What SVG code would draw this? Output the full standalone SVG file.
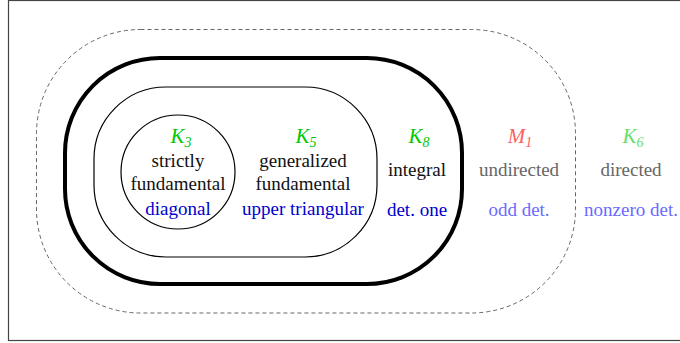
<svg xmlns="http://www.w3.org/2000/svg" width="680" height="343" viewBox="0 0 680 343">
<defs>
<style>
.shape{fill:none}
</style>
</defs>
<rect x="8.5" y="0.5" width="680" height="340" fill="#fff" stroke="#444" stroke-width="1.2"/>
<g id="nonzero-det" font-family="Liberation Serif" font-size="19" text-anchor="middle">
<rect class="shape" x="36.5" y="29.5" width="539" height="283.5" rx="104" ry="104" stroke="#666" stroke-width="1" stroke-dasharray="4,3"/>
<text font-family="Liberation Serif" font-style="italic" font-size="21" fill="#66e066" x="633" y="143">K<tspan font-size="14" dy="4">6</tspan></text>
<text font-family="Liberation Serif" fill="#666" x="631" y="176">directed</text>
<text font-family="Liberation Serif" fill="#6a6aff" x="631" y="216">nonzero det.</text>
</g>
<g id="odd-det" font-family="Liberation Serif" font-size="19" text-anchor="middle">
<text font-family="Liberation Serif" font-style="italic" font-size="21" fill="#ff6060" x="520" y="143">M<tspan font-size="14" dy="4">1</tspan></text>
<text font-family="Liberation Serif" fill="#666" x="519" y="176">undirected</text>
<text font-family="Liberation Serif" fill="#6a6aff" x="519" y="216">odd det.</text>
</g>
<g id="det-one" font-family="Liberation Serif" font-size="19" text-anchor="middle">
<rect class="shape" x="65" y="58" width="397" height="226" rx="95" ry="95" stroke="#000" stroke-width="4"/>
<text font-family="Liberation Serif" font-style="italic" font-size="21" fill="#00c800" x="419" y="143">K<tspan font-size="14" dy="4">8</tspan></text>
<text font-family="Liberation Serif" fill="#111" x="417" y="176">integral</text>
<text font-family="Liberation Serif" fill="#0000cc" x="417" y="216">det. one</text>
</g>
<g id="upper-triangular" font-family="Liberation Serif" font-size="19" text-anchor="middle">
<rect class="shape" x="94" y="87" width="283" height="170" rx="72" ry="72" stroke="#000" stroke-width="1.2"/>
<text font-family="Liberation Serif" font-style="italic" font-size="21" fill="#00c800" x="306" y="143">K<tspan font-size="14" dy="4">5</tspan></text>
<text font-family="Liberation Serif" fill="#111" x="303" y="167">generalized</text>
<text font-family="Liberation Serif" fill="#111" x="303" y="190">fundamental</text>
<text font-family="Liberation Serif" fill="#0000cc" x="303" y="215">upper triangular</text>
</g>
<g id="diagonal" font-family="Liberation Serif" font-size="19" text-anchor="middle">
<circle class="shape" cx="178" cy="172" r="57" stroke="#000" stroke-width="1.2"/>
<text font-family="Liberation Serif" font-style="italic" font-size="21" fill="#00c800" x="181" y="143">K<tspan font-size="14" dy="4">3</tspan></text>
<text font-family="Liberation Serif" fill="#111" x="178" y="167">strictly</text>
<text font-family="Liberation Serif" fill="#111" x="178" y="190">fundamental</text>
<text font-family="Liberation Serif" fill="#0000cc" x="178" y="215">diagonal</text>
</g>
<g id="connectors"></g>
</svg>
